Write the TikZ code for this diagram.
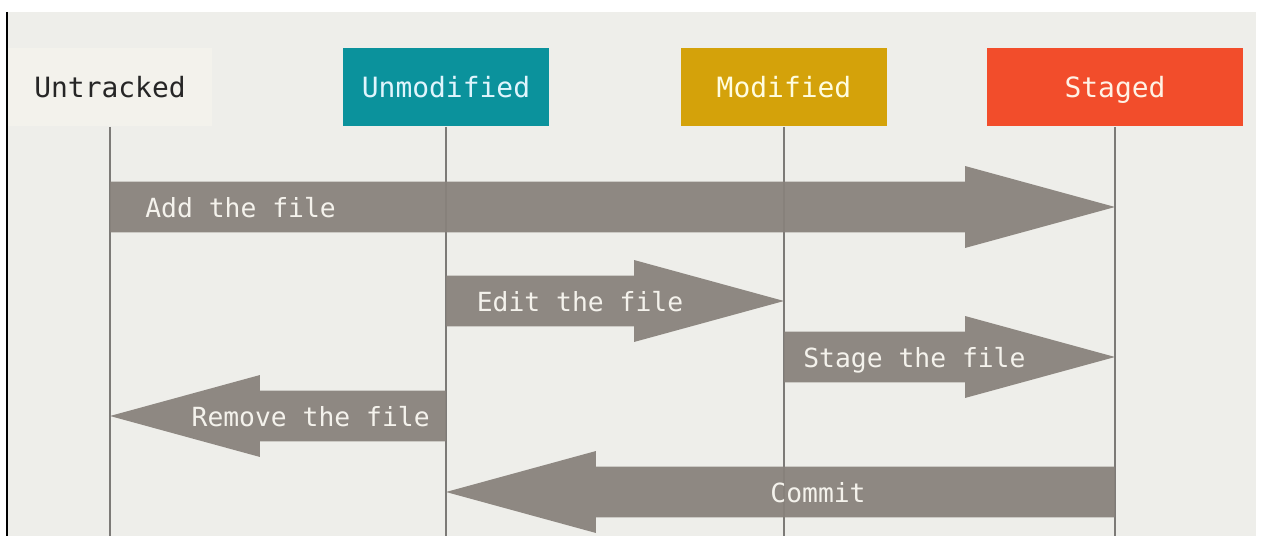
\documentclass[tikz,border=0pt]{standalone}
\usepackage{fontspec}
\setmonofont{DejaVu Sans Mono}
\usetikzlibrary{calc, positioning}

\definecolor{paper}{HTML}{EEEEEA}
\definecolor{lanegray}{HTML}{7C7A77}
\definecolor{flowgray}{HTML}{88827C}
\definecolor{flowtext}{HTML}{F4F2EC}
\definecolor{untfill}{HTML}{F3F2EC}
\definecolor{unmfill}{HTML}{0B929C}
\definecolor{modfill}{HTML}{D4A20A}
\definecolor{stgfill}{HTML}{F24D2B}

\tikzset {
    state/.style={minimum height=1.58cm, inner sep=0pt, text height=1.2em, text depth=0pt,
                  font=\ttfamily\fontsize{15.9}{18}\selectfont},
    lane/.style={draw=lanegray, line width=1.1pt},
    flow/.style={fill=flowgray, fill opacity=0.94},
    flow text/.style={text=flowtext, inner sep=0pt, text height=0.73em, text depth=0pt,
                      yshift=-0.8mm, font=\ttfamily\fontsize{15}{18}\selectfont}
}

% fat arrow from lane point #1 to lane point #2
\newcommand{\fatarrow}[2]{%
    \path ($(#2)!3cm!(#1)$) coordinate (hb);
    \fill[flow] ([yshift=5.1mm]#1) -- ([yshift=5.1mm]hb) -- ([yshift=8.2mm]hb) -- (#2)
        -- ([yshift=-8.2mm]hb) -- ([yshift=-5.1mm]hb) -- ([yshift=-5.1mm]#1) -- cycle;
}

\begin{document}
\begin{tikzpicture}[x=0.02cm, y=-0.02cm]
    \useasboundingbox (0,0) rectangle (1261,536);
    \fill[white] (0,0) rectangle (1261,536);
    \fill[paper] (8,12) rectangle (1256,536);
    \draw[black, line width=0.8pt] (7,12) -- (7,536);

    % the four states
    \node[state, fill=untfill, text=black!85, minimum width=4.08cm] (unt) at (110,87) {Untracked};
    \node[state, fill=unmfill, text=cyan!12, minimum width=4.12cm] (unm) at (446,87) {Unmodified};
    \node[state, fill=modfill, text=yellow!12, minimum width=4.12cm] (mod) at (784,87) {Modified};
    \node[state, fill=stgfill, text=orange!10, minimum width=5.12cm] (stg) at (1115,87) {Staged};

    \foreach \s in {unt, unm, mod, stg}
        \draw[lane] (\s.south) -- (\s |- 0,536);

    % lane points
    \coordinate (add-s) at (unt |- 0,207);
    \coordinate (add-e) at (stg |- 0,207);
    \coordinate (edit-s) at (unm |- 0,301);
    \coordinate (edit-e) at (mod |- 0,301);
    \coordinate (stage-s) at (mod |- 0,357);
    \coordinate (stage-e) at (stg |- 0,357);
    \coordinate (rm-s) at (unm |- 0,416);
    \coordinate (rm-e) at (unt |- 0,416);
    \coordinate (commit-s) at (stg |- 0,492);
    \coordinate (commit-e) at (unm |- 0,492);

    \fatarrow{add-s}{add-e}
    \fatarrow{edit-s}{edit-e}
    \fatarrow{stage-s}{stage-e}
    \fatarrow{rm-s}{rm-e}
    \fatarrow{commit-s}{commit-e}

    \node[flow text, anchor=west] (addtxt) at (145,207) {Add the file};
    \node[flow text] (edittxt) at (580,301) {Edit the file};
    \node[flow text, anchor=west] (stagetxt) at (803,357) {Stage the file};
    \node[flow text, anchor=east] (rmtxt) at (430,416) {Remove the file};
    \node[flow text] (committxt) at (818,492) {Commit};
\end{tikzpicture}
\end{document}
